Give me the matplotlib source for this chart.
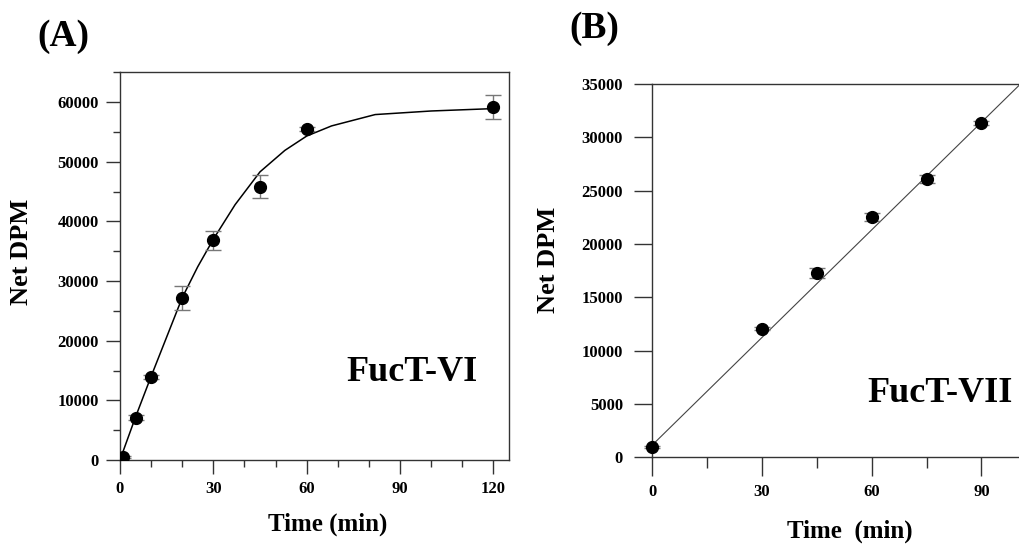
import matplotlib.pyplot as plt
from matplotlib.ticker import MultipleLocator

plt.rcParams['font.family'] = ['Liberation Serif', 'DejaVu Serif']
plt.rcParams['font.weight'] = 'bold'

# panel A: FucT-VI time course
a_time = [1, 5, 10, 20, 30, 45, 60, 120]
a_dpm = [450, 7100, 13900, 27100, 36800, 45800, 55500, 59200]
a_err = [150, 400, 400, 2000, 1650, 1900, 350, 2050]
a_fit_time = [0, 5, 10, 15, 20, 25, 30, 37, 45, 53, 60, 68, 82, 100, 120]
a_fit_dpm = [0, 7200, 14000, 20600, 27200, 32400, 37000, 42800, 48300,
             51900, 54300, 56000, 57900, 58500, 58900]

# panel B: FucT-VII time course
b_time = [0, 30, 45, 60, 75, 90]
b_dpm = [950, 12060, 17280, 22530, 26120, 31310]
b_err = [100, 150, 470, 375, 375, 190]
b_fit_time = [0, 112]
b_fit_dpm = [1150, 38800]

W, H = 1020, 547
fig = plt.figure(figsize=(W / 100, H / 100), dpi=100)
axA = fig.add_axes([0.1176, 0.159, 0.3814, 0.709])
axB = fig.add_axes([0.6395, 0.164, 0.4015, 0.6825])

spine_col = '#333333'
err_col = '#777777'


def px(x, y):
    # pixel position (from top-left) -> figure fraction
    return x / W, 1 - y / H


def style(ax):
    for s in ax.spines.values():
        s.set_color(spine_col)
        s.set_linewidth(1.0)
    ax.tick_params(which='major', direction='out', length=10, width=1.0,
                   color=spine_col, labelsize=12, pad=5)
    ax.tick_params(which='minor', direction='out', length=5, width=1.0,
                   color=spine_col)
    for lab in ax.get_xticklabels() + ax.get_yticklabels():
        lab.set_fontweight('bold')


# ---- A ----
axA.plot(a_fit_time, a_fit_dpm, color='black', lw=1.1, zorder=2)
axA.errorbar(a_time, a_dpm, yerr=a_err, fmt='o', color='black', ms=8.5,
             ecolor=err_col, elinewidth=1.0, capsize=6, capthick=1.0, zorder=3)
axA.set_xlim(0, 125)
axA.set_ylim(0, 65000)
axA.xaxis.set_major_locator(MultipleLocator(30))
axA.xaxis.set_minor_locator(MultipleLocator(10))
axA.yaxis.set_major_locator(MultipleLocator(10000))
axA.yaxis.set_minor_locator(MultipleLocator(5000))
style(axA)
axA.text(0.75, 0.225, 'FucT-VI', transform=axA.transAxes, fontsize=26,
         fontweight='bold', ha='center', va='center')
fig.text(*px(328, 524), 'Time (min)', fontsize=18, fontweight='bold',
         ha='center', va='center')
fig.text(*px(22, 252), 'Net DPM', fontsize=19, fontweight='bold',
         ha='center', va='center', rotation=90)
fig.text(*px(63, 36), '(A)', fontsize=27, fontweight='bold',
         ha='center', va='center')

# ---- B ----
axB.plot(b_fit_time, b_fit_dpm, color='#444444', lw=0.8, zorder=2)
axB.errorbar(b_time, b_dpm, yerr=b_err, fmt='o', color='black', ms=8.5,
             ecolor=err_col, elinewidth=1.0, capsize=6, capthick=1.0, zorder=3,
             clip_on=False)
axB.set_xlim(0, 112)
axB.set_ylim(0, 35000)
axB.xaxis.set_major_locator(MultipleLocator(30))
axB.xaxis.set_minor_locator(MultipleLocator(15))
axB.yaxis.set_major_locator(MultipleLocator(5000))
style(axB)
axB.spines['right'].set_visible(False)
axB.tick_params(axis='x', which='major', length=14)
axB.tick_params(axis='x', which='minor', length=8)
axB.tick_params(axis='y', which='major', length=13, pad=8)
fig.text(*px(850, 531), 'Time  (min)', fontsize=18, fontweight='bold',
         ha='center', va='center')
fig.text(*px(549, 260), 'Net DPM', fontsize=19, fontweight='bold',
         ha='center', va='center', rotation=90)
fig.text(*px(940, 394), 'FucT-VII', fontsize=26, fontweight='bold',
         ha='center', va='center')
fig.text(*px(594, 29), '(B)', fontsize=27, fontweight='bold',
         ha='center', va='center')

fig.savefig('out.png', dpi=100)
